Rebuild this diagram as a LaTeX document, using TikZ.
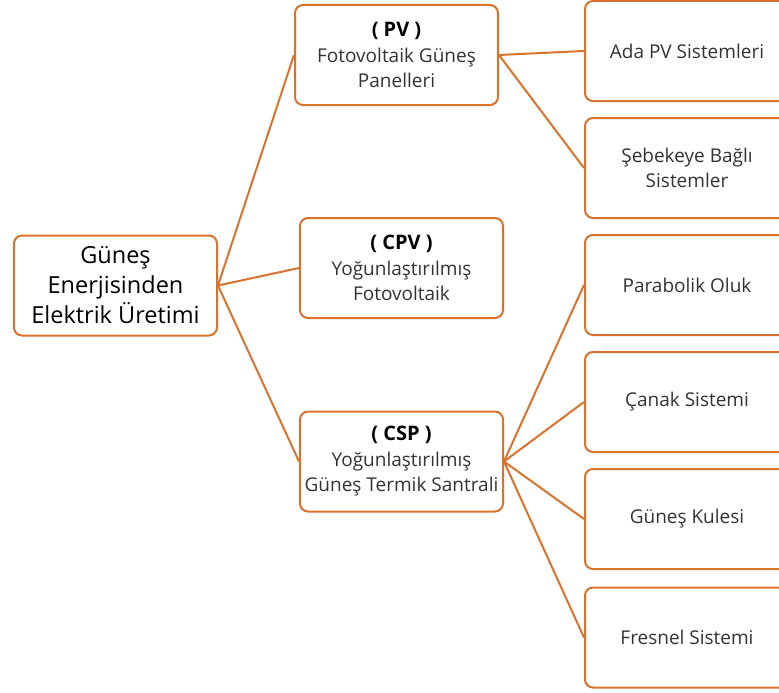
\documentclass[tikz,border=0pt]{standalone}
\usepackage{fontspec}
\setmainfont{Open Sans}
\definecolor{edge}{HTML}{D8732E}
\definecolor{txt}{HTML}{333333}
\newcommand{\headline}[1]{{\fontsize{20}{25.5}\selectfont\bfseries\color{black}#1}}
\begin{document}
\begin{tikzpicture}[x=1pt,y=-1pt,
  box/.style={draw=edge, line width=2pt, rounded corners=8pt, fill=white,
    minimum width=203pt, minimum height=100pt, align=center, inner sep=2pt},
  rootbox/.style={box, font=\fontsize{23.5}{30}\selectfont, text=black},
  midbox/.style={box, font=\fontsize{19}{25.5}\selectfont, text=txt},
  leafbox/.style={box, minimum width=204pt, font=\fontsize{19}{25.5}\selectfont, text=txt},
  link/.style={draw=edge, line width=2pt}]
\useasboundingbox (0,0) rectangle (779,693);
\clip (0,0) rectangle (779,693);

% root
\node[rootbox] (root) at (115.5,285.5) {Güneş\\Enerjisinden\\Elektrik Üretimi};

% technologies
\node[midbox] (pv)  at (396.5,55)    {\headline{( PV )}\\Fotovoltaik Güneş\\Panelleri};
\node[midbox] (cpv) at (401.5,268)   {\headline{( CPV )}\\Yoğunlaştırılmış\\Fotovoltaik};
\node[midbox] (csp) at (401.5,461.5) {\headline{( CSP )}\\Yoğunlaştırılmış\\Güneş Termik Santrali};

% system types
\node[leafbox] (ada)  at (687,51)    {Ada PV Sistemleri};
\node[leafbox] (seb)  at (687,168)   {Şebekeye Bağlı\\Sistemler};
\node[leafbox] (par)  at (687,285)   {Parabolik Oluk};
\node[leafbox] (can)  at (687,402)   {Çanak Sistemi};
\node[leafbox] (kule) at (687,519)   {Güneş Kulesi};
\node[leafbox] (fre)  at (687,637.5) {Fresnel Sistemi};

% connectors
\draw[link] (root.east) -- (pv.west);
\draw[link] (root.east) -- (cpv.west);
\draw[link] (root.east) -- (csp.west);
\draw[link] (pv.east) -- (ada.west);
\draw[link] (pv.east) -- (seb.west);
\draw[link] (csp.east) -- (par.west);
\draw[link] (csp.east) -- (can.west);
\draw[link] (csp.east) -- (kule.west);
\draw[link] (csp.east) -- (fre.west);
\end{tikzpicture}
\end{document}
